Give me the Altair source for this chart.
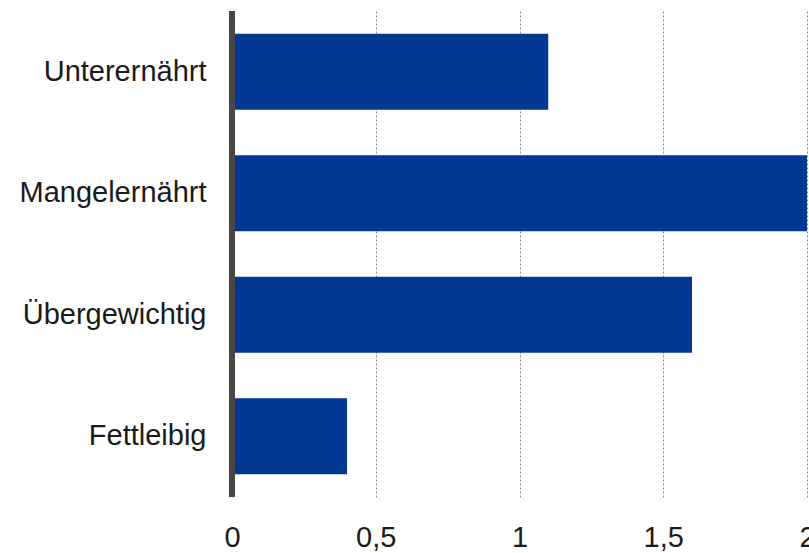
import altair as alt
import pandas as pd

categories = ["Unterernährt", "Mangelernährt", "Übergewichtig", "Fettleibig"]
values = [1.1, 2.0, 1.6, 0.4]
tick_values = [0, 0.5, 1, 1.5, 2]

df = pd.DataFrame({"kategorie": categories, "wert": values})

x_scale = alt.Scale(domain=[0, 2], nice=False, zero=True)
y_scale = alt.Scale(domain=categories, paddingInner=0.375, paddingOuter=0.1875)

bars = alt.Chart(df).mark_bar(color="#003893").encode(
    x=alt.X(
        "wert:Q",
        scale=x_scale,
        axis=alt.Axis(
            values=tick_values,
            title=None,
            domain=False,
            ticks=False,
            tickSize=0,
            grid=True,
            gridColor="#8c8c8c",
            gridDash=[2, 2],
            gridWidth=1,
            labelFont="Liberation Sans",
            labelFontSize=29,
            labelColor="#1a1a1a",
            labelBaseline="alphabetic",
            labelPadding=49,
            labelFlush=False,
            labelOverlap=False,
            labelBound=False,
            labelExpr="replace(format(datum.value, '~g'), '.', ',')",
        ),
    ),
    y=alt.Y(
        "kategorie:N",
        scale=y_scale,
        sort=categories,
        axis=alt.Axis(
            title=None,
            domain=False,
            ticks=False,
            tickSize=0,
            labelFont="Liberation Sans",
            labelFontSize=29,
            labelColor="#1a1a1a",
            labelPadding=26,
            labelLimit=300,
        ),
    ),
)

# thick baseline at zero, drawn above the bars
zero_line = alt.Chart(pd.DataFrame({"x": [0]})).mark_rule(
    color="#4a4646", strokeWidth=6
).encode(x=alt.X("x:Q", scale=x_scale))

chart = (
    alt.layer(bars, zero_line)
    .properties(
        width=575,
        height=486,
        autosize=alt.AutoSizeParams(type="none"),
        padding={"left": 232, "top": 11, "right": 2, "bottom": 56},
    )
    .configure_view(stroke=None)
    .configure_axis(gridOpacity=1)
)

chart.save("out.html", embed_options={"renderer": "svg", "actions": False})
